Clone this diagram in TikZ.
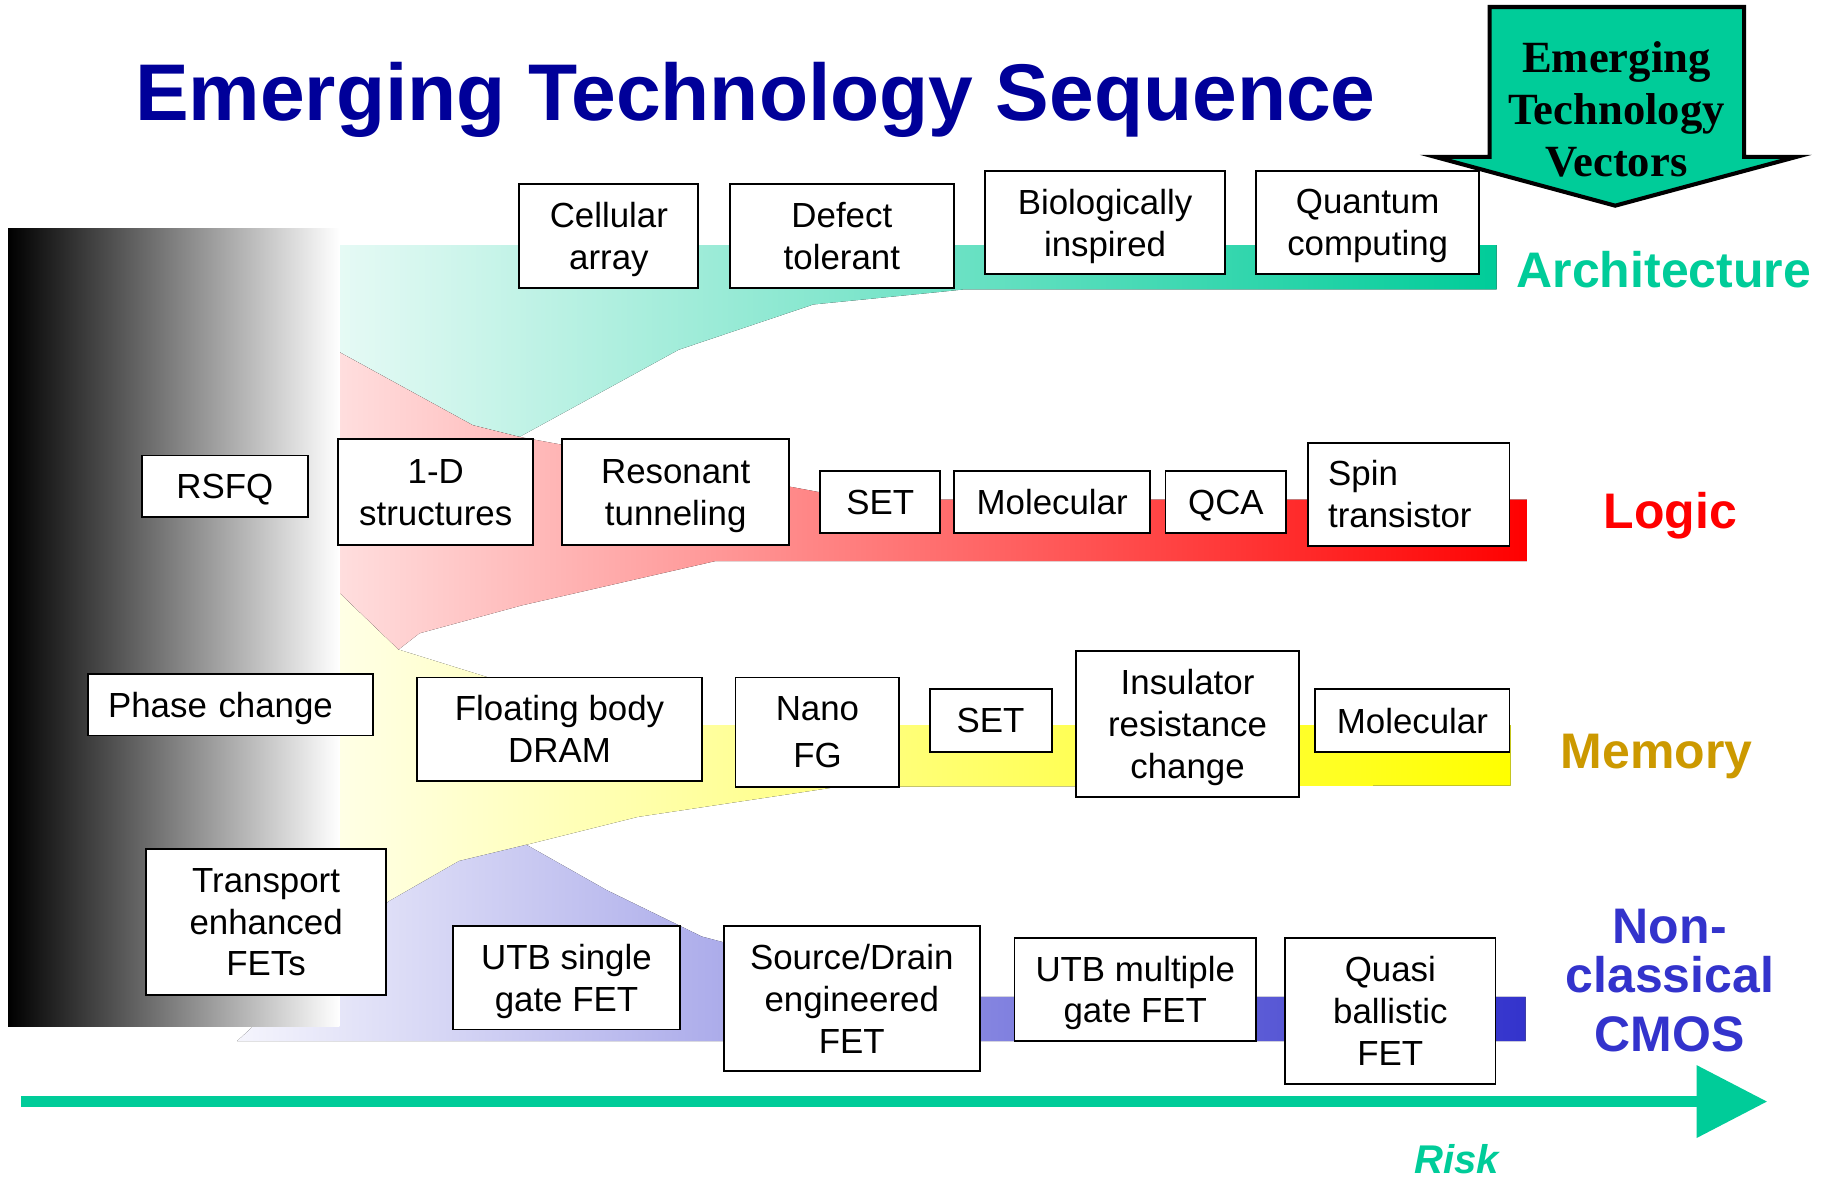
\documentclass[tikz,border=0pt]{standalone}
\usepackage{fontspec}
\setmainfont{Liberation Sans}
\newfontfamily\vecfont{Liberation Serif}
\usetikzlibrary{arrows.meta}
\definecolor{archg}{RGB}{0,204,153}
\definecolor{memc}{RGB}{204,153,0}
\definecolor{cmosc}{RGB}{51,51,204}
\definecolor{titleblue}{RGB}{0,0,153}
\definecolor{logicred}{RGB}{255,0,0}
\begin{document}
\begin{tikzpicture}[x=1pt,y=-1pt,
  bx/.style={draw=black, line width=1.6pt, fill=white, align=center, inner sep=0pt,
    text depth=0pt, font=\fontsize{30}{36}\selectfont},
  lab/.style={font=\fontsize{43}{46}\selectfont\bfseries, inner sep=0pt},
  vec/.style={font=\vecfont\fontsize{38.4}{45}\selectfont\bfseries, inner sep=0pt, anchor=base}
]
\useasboundingbox (0,0) rectangle (1568,1016);
\fill[white] (0,0) rectangle (1568,1016);

% bands
\fill[left color=archg!10, middle color=archg!45, right color=archg]
  (292,211) -- (1288,211) -- (1288,249) -- (830,249) -- (811,251) -- (700,262)
  -- (584,301) -- (447,376) -- (407,366) -- (292,303) -- cycle;
\fill[left color=yellow!10, right color=yellow]
  (292,510) -- (343,559) -- (417,582) -- (547,624) -- (1300,624) -- (1300,676)
  -- (722,677) -- (549,703) -- (453,727) -- (292,840) -- cycle;
\fill[left color=logicred!13, middle color=logicred!40, right color=logicred]
  (292,303) -- (407,366) -- (447,376) -- (686,420) -- (740,430) -- (1314,430)
  -- (1314,483) -- (615,483) -- (449,521) -- (361,545) -- (343,559) -- (292,510) -- cycle;
\fill[left color=cmosc!5, right color=cmosc]
  (204,896) -- (334,776) -- (395,741) -- (453,727) -- (522,766) -- (604,806)
  -- (623,811) -- (660,858) -- (1313,858) -- (1313,896) -- cycle;

% gray block
\fill[left color=black, middle color=black!33, right color=white] (7,197) rectangle (292,883);

% title
\node[anchor=base west, inner sep=0pt, text=titleblue, font=\fontsize{69.2}{69.2}\selectfont\bfseries]
  (title) at (116,104) {Emerging Technology Sequence};

% architecture
\node[bx, minimum width=154, minimum height=90] (cell) at (524,203) {Cellular\\array};
\node[bx, minimum width=193, minimum height=90] (defect) at (724.5,203) {Defect\\tolerant};
\node[bx, minimum width=206, minimum height=89] (bio) at (951,191.5) {Biologically\\inspired};
\node[bx, minimum width=192, minimum height=89] (quant) at (1177,191.5) {Quantum\\computing};

% logic
\node[bx, minimum width=143, minimum height=53] (rsfq) at (193.5,418.5) {RSFQ};
\node[bx, minimum width=168, minimum height=91] (oned) at (375,423.5) {1-D\\structures};
\node[bx, minimum width=195, minimum height=91] (reso) at (581.5,423.5) {Resonant\\tunneling};
\node[bx, minimum width=103, minimum height=54] (setl) at (757.5,432) {SET};
\node[bx, minimum width=169, minimum height=54] (moll) at (905.5,432) {Molecular};
\node[bx, minimum width=104, minimum height=54] (qca) at (1055,432) {QCA};
\node[bx, minimum width=173, minimum height=89, text width=139, align=left, text depth={}] (spin) at (1212.5,425.5) {Spin\\transistor};

% memory
\node[bx, minimum width=245, minimum height=53, text width=211, align=left] (phase) at (198.5,606.5) {Phase change};
\node[bx, minimum width=245, minimum height=89] (float) at (481.5,627.5) {Floating body\\DRAM};
\node[bx, minimum width=141, minimum height=94, font=\fontsize{30}{40}\selectfont] (nano) at (703.5,630) {Nano\\FG};
\node[bx, minimum width=105, minimum height=54] (setm) at (852.5,620) {SET};
\node[bx, minimum width=192, minimum height=126] (insul) at (1022,623) {Insulator\\resistance\\change};
\node[bx, minimum width=167, minimum height=54] (molm) at (1215.5,620) {Molecular};

% cmos
\node[bx, minimum width=206, minimum height=125] (trans) at (229,793.5) {Transport\\enhanced\\FETs};
\node[bx, minimum width=195, minimum height=89] (utbs) at (487.5,841.5) {UTB single\\gate FET};
\node[bx, minimum width=220, minimum height=125] (sd) at (733,859.5) {Source/Drain\\engineered\\FET};
\node[bx, minimum width=208, minimum height=89] (utbm) at (977,851.5) {UTB multiple\\gate FET};
\node[bx, minimum width=181, minimum height=126] (quasi) at (1196.5,870) {Quasi\\ballistic\\FET};

% labels
\node[lab, text=archg, anchor=base west] (arch) at (1305,247) {Architecture};
\node[lab, text=logicred, anchor=base west] (logic) at (1380,455) {Logic};
\node[lab, text=memc, anchor=base west] (mem) at (1343,661) {Memory};
\node[lab, text=cmosc, anchor=base] (cm1) at (1437,812) {Non-};
\node[lab, text=cmosc, anchor=base] (cm2) at (1437,854) {classical};
\node[lab, text=cmosc, anchor=base] (cm3) at (1437,905) {CMOS};

% risk arrow
\coordinate (rs) at (18,948);
\coordinate (re) at (1521,948);
\draw[archg, line width=10pt, -{Triangle[length=61pt, width=60pt]}] (rs) -- (re);
\node[anchor=base west, inner sep=0pt, text=archg, font=\fontsize{34.5}{34.5}\selectfont\bfseries\itshape]
  (risk) at (1217,1010) {Risk};

% vectors arrow
\draw[line width=3.5pt, fill=archg, line join=miter]
  (1282,6) -- (1501,6) -- (1501,135) -- (1546,135) -- (1390,177) -- (1235,135) -- (1282,135) -- cycle;
\node[vec] (v1) at (1391,62) {Emerging};
\node[vec] (v2) at (1391,107) {Technology};
\node[vec] (v3) at (1391,152) {Vectors};
\end{tikzpicture}
\end{document}
